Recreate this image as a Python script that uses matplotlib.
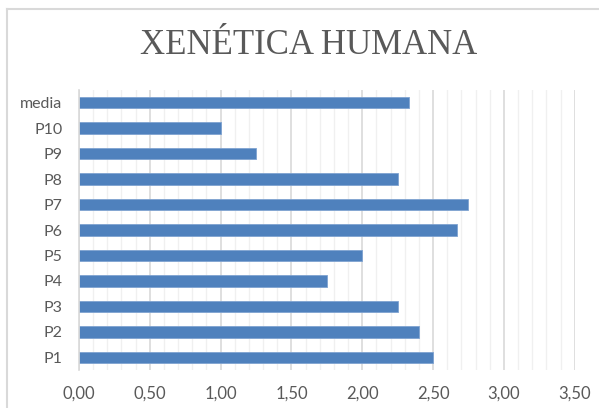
import matplotlib.pyplot as plt
from matplotlib.lines import Line2D
from matplotlib.ticker import MultipleLocator, FuncFormatter

categories = ['P1', 'P2', 'P3', 'P4', 'P5', 'P6', 'P7', 'P8', 'P9', 'P10', 'media']
values = [2.50, 2.40, 2.25, 1.75, 2.00, 2.67, 2.75, 2.25, 1.25, 1.00, 2.33]
title = 'XENÉTICA HUMANA'

W, H = 599, 408
fig = plt.figure(figsize=(W / 100, H / 100), dpi=100)
ax = fig.add_axes([79 / W, (H - 370) / H, (574.7 - 79) / W, (370 - 90) / H])

bar_color = '#4f81bd'
ax.barh(range(len(categories)), values, height=0.45, color=bar_color,
        edgecolor='#7fa3d1', linewidth=0.6, zorder=3)

ax.set_xlim(0, 3.5)
ax.set_ylim(-0.5, len(categories) - 0.5)
ax.set_yticks(range(len(categories)))
ax.set_yticklabels(categories)

ax.xaxis.set_major_locator(MultipleLocator(0.5))
ax.xaxis.set_minor_locator(MultipleLocator(0.1))
ax.xaxis.set_major_formatter(FuncFormatter(lambda v, p: f'{v:.2f}'.replace('.', ',')))

ax.grid(axis='x', which='major', color='#d9d9d9', linewidth=1.2, zorder=0)
ax.grid(axis='x', which='minor', color='#f0f0f0', linewidth=1.0, zorder=0)

for side in ['top', 'right', 'bottom']:
    ax.spines[side].set_visible(False)
ax.spines['left'].set_color('#d9d9d9')
ax.spines['left'].set_linewidth(1.2)
ax.spines['left'].set_zorder(4)

ax.tick_params(axis='both', which='both', length=0, colors='#595959')
ax.tick_params(axis='x', pad=11, labelsize=12)
ax.tick_params(axis='y', pad=12, labelsize=11.5)
for lab in ax.get_xticklabels() + ax.get_yticklabels():
    lab.set_family('Lato')

fig.text(309 / W, 1 - 46 / H, title, ha='center', va='center',
         fontsize=25, color='#595959', family='Liberation Serif')

# chart area border
fig.add_artist(Line2D([7 / W, 1], [1 - 9 / H, 1 - 9 / H], color='#d9d9d9', linewidth=1.5))
fig.add_artist(Line2D([7 / W, 7 / W], [0, 1 - 9 / H], color='#d9d9d9', linewidth=1.5))

fig.savefig('out.png', dpi=100)
